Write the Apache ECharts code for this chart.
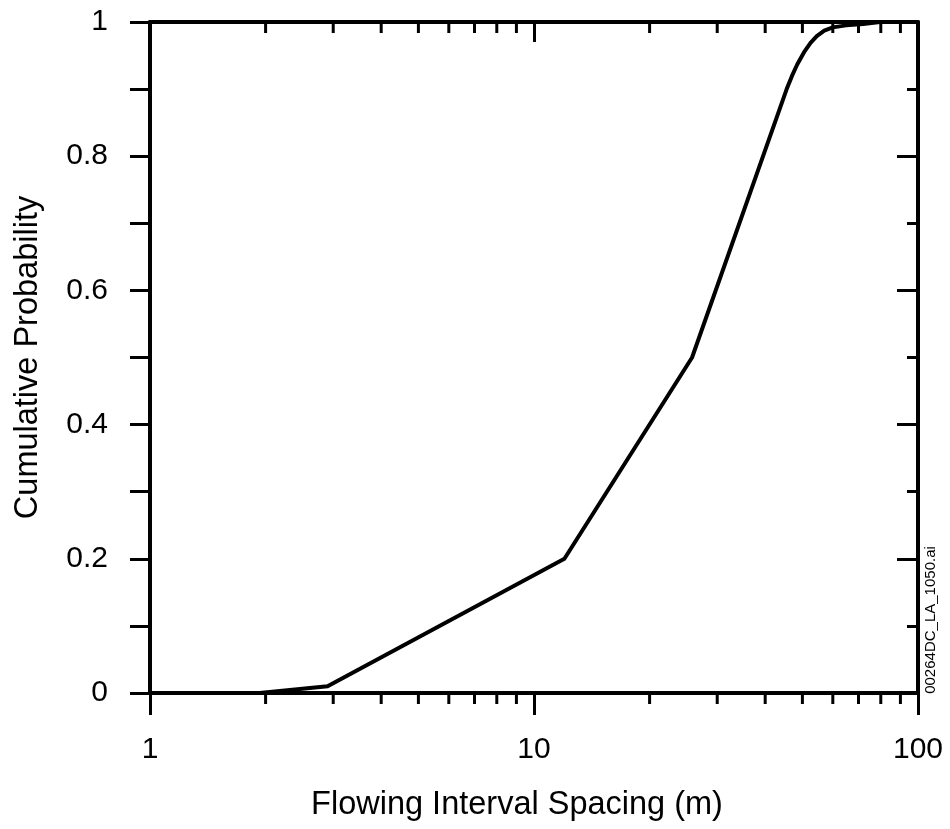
<!DOCTYPE html>
<html>
<head>
<meta charset="utf-8">
<script src="https://cdn.jsdelivr.net/npm/echarts@6/dist/echarts.min.js"></script>
<style>
html,body{margin:0;padding:0;background:#fff;}
#chart{width:950px;height:829px;}
</style>
</head>
<body>
<div id="chart"></div>
<script>
// Data
var spacing = [1.93, 2.9, 12, 25.8, 45.5, 47, 48.5, 50.5, 52.5, 54.5, 57, 60, 65, 72, 79.6];
var cumProb = [0, 0.01, 0.2, 0.5, 0.9, 0.92, 0.937, 0.955, 0.969, 0.979, 0.987, 0.992, 0.995, 0.997, 1.0];
var minorTicksX = [2, 3, 4, 5, 6, 7, 8, 9, 20, 30, 40, 50, 60, 70, 80, 90];
var xTitle = 'Flowing Interval Spacing (m)';
var yTitle = 'Cumulative Probability';
var fileTag = '00264DC_LA_1050.ai';

var FONT = '"Liberation Sans", Arial, Helvetica, sans-serif';
var chart = echarts.init(document.getElementById('chart'));
var lineData = spacing.map(function (x, i) { return [x, cumProb[i]]; });

chart.setOption({
  animation: false,
  backgroundColor: '#fff',
  grid: { left: 150, right: 32, top: 22, bottom: 136, containLabel: false },
  xAxis: [
    {
      type: 'log', logBase: 10, min: 1, max: 100, position: 'bottom',
      name: xTitle, nameLocation: 'middle', nameGap: 96,
      nameTextStyle: { fontFamily: FONT, fontSize: 32.5, color: '#000', padding: [0, 34, 0, 0] },
      axisLine: { show: true, lineStyle: { color: '#000', width: 4 } },
      axisTick: { show: true, inside: false, length: 22, lineStyle: { color: '#000', width: 3 } },
      axisLabel: { show: true, margin: 42, fontFamily: FONT, fontSize: 30, color: '#000' },
      splitLine: { show: false }
    },
    {
      type: 'log', logBase: 10, min: 1, max: 100, position: 'top',
      axisLine: { show: true, onZero: false, lineStyle: { color: '#000', width: 4 } },
      axisTick: { show: true, inside: true, length: 20, lineStyle: { color: '#000', width: 3 } },
      axisLabel: { show: false },
      splitLine: { show: false }
    }
  ],
  yAxis: [
    {
      type: 'value', min: 0, max: 1, interval: 0.2, position: 'left',
      name: yTitle, nameLocation: 'middle', nameGap: 105,
      nameTextStyle: { fontFamily: FONT, fontSize: 32.5, color: '#000' },
      axisLine: { show: true, onZero: false, lineStyle: { color: '#000', width: 4 } },
      axisTick: { show: true, inside: false, length: 20, lineStyle: { color: '#000', width: 3 } },
      minorTick: { show: true, splitNumber: 2, length: 20, lineStyle: { color: '#000', width: 3 } },
      axisLabel: { show: true, margin: 42, fontFamily: FONT, fontSize: 30, color: '#000' },
      splitLine: { show: false }, minorSplitLine: { show: false }
    },
    {
      type: 'value', min: 0, max: 1, interval: 0.2, position: 'right',
      axisLine: { show: true, onZero: false, lineStyle: { color: '#000', width: 4 } },
      axisTick: { show: true, inside: true, length: 21, lineStyle: { color: '#000', width: 3 } },
      minorTick: { show: true, splitNumber: 2, length: 11, lineStyle: { color: '#000', width: 3 } },
      axisLabel: { show: false },
      splitLine: { show: false }, minorSplitLine: { show: false }
    }
  ],
  graphic: [
    {
      type: 'text', x: 931, y: 620, rotation: Math.PI / 2,
      style: { text: fileTag, font: '15px ' + FONT, fill: '#000', align: 'center', verticalAlign: 'middle' }
    }
  ],
  series: [
    {
      type: 'line', xAxisIndex: 0, yAxisIndex: 0,
      data: lineData, showSymbol: false, symbol: 'none', smooth: false,
      lineStyle: { color: '#000', width: 4, join: 'round' }, z: 5
    },
    {
      type: 'custom', xAxisIndex: 0, yAxisIndex: 0, clip: false, silent: true,
      data: minorTicksX.map(function (v) { return [v]; }),
      renderItem: function (params, api) {
        var v = api.value(0);
        var pb = api.coord([v, 0]);
        var pt = api.coord([v, 1]);
        var st = { stroke: '#000', lineWidth: 3 };
        return {
          type: 'group',
          children: [
            { type: 'line', shape: { x1: pb[0], y1: pb[1], x2: pb[0], y2: pb[1] + 11 }, style: st },
            { type: 'line', shape: { x1: pt[0], y1: pt[1], x2: pt[0], y2: pt[1] + 11 }, style: st }
          ]
        };
      }
    }
  ]
});
</script>
</body>
</html>
